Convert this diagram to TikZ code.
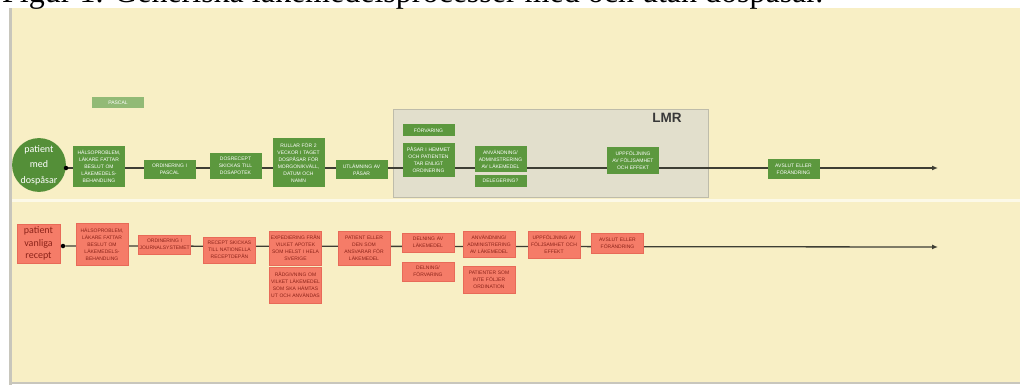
\documentclass[tikz,border=0pt]{standalone}
\usepackage{fontspec}
\setmainfont{Liberation Sans}
\newfontfamily\serifF{Liberation Serif}
\newfontfamily\calF{Carlito}
\usetikzlibrary{arrows.meta}
\definecolor{bgyellow}{RGB}{248,239,197}
\definecolor{edgegray}{RGB}{200,198,188}
\definecolor{gfill}{RGB}{92,152,62}
\definecolor{gcircle}{RGB}{84,143,56}
\definecolor{glight}{RGB}{146,186,118}
\definecolor{lmrfill}{RGB}{226,223,204}
\definecolor{lmrdraw}{RGB}{190,188,170}
\definecolor{sfill}{RGB}{245,124,104}
\definecolor{sdraw}{RGB}{232,106,88}
\definecolor{stext}{RGB}{140,35,25}
\definecolor{linec}{RGB}{62,62,52}
\pgfdeclarelayer{bglayer}
\pgfdeclarelayer{linelayer}
\pgfsetlayers{bglayer,linelayer,main}
\begin{document}
\begin{tikzpicture}[x=1pt,y=-1pt,
  gbox/.style={fill=gfill, text=white, font=\fontsize{5}{7}\selectfont, align=center,
    text width=50pt, inner xsep=1pt, inner ysep=0pt},
  sbox/.style={fill=sfill, draw=sdraw, line width=0.4pt, text=stext, font=\fontsize{5}{7}\selectfont, align=center,
    text width=50pt, inner xsep=1pt, inner ysep=0pt},
  startc/.style={circle, fill=gcircle, text=white, font=\calF\fontsize{10}{15.5}\selectfont, align=center,
    minimum size=52pt, inner sep=0pt},
  starts/.style={fill=sfill, draw=sdraw, line width=0.4pt, text=stext, font=\calF\fontsize{10}{12.5}\selectfont, align=center,
    minimum width=43pt, minimum height=39pt, inner sep=0pt},
  dotn/.style={circle, fill=black, inner sep=0pt, minimum size=4.5pt},
  conn/.style={draw=linec, line width=1.3pt},
  arr/.style={conn, -{Latex[length=6pt,width=5pt]}}]
\useasboundingbox (0,0) rectangle (1020,385);
\begin{pgfonlayer}{bglayer}
  \fill[white] (0,0) rectangle (1020,385);
  \fill[bgyellow] (12,8) rectangle (1020,382);
  \fill[edgegray] (9,8) rectangle (12,385);
  \fill[edgegray] (9,382) rectangle (1020,384);
  \fill[white!60!bgyellow] (12,199) rectangle (1020,201.5);
  \node[draw=lmrdraw, fill=lmrfill, line width=0.8pt, minimum width=315pt, minimum height=88pt, inner sep=0pt] (lmr) at (550.5,153) {};
  \node[font=\bfseries\fontsize{13.5}{14}\selectfont, text=black!78, inner sep=0pt] (lmrlabel) at (667,118) {LMR};
\end{pgfonlayer}

\node[anchor=base west, font=\serifF\fontsize{32}{32}\selectfont, inner sep=0pt] (title) at (2,3) {Figur 1. Generiska läkemedelsprocesser med och utan dospåsar.};

% top row
\node[startc] (c1) at (39,165) {patient\\med\\dospåsar};
\node[dotn] (dA) at (66,168) {};
\coordinate (eA) at (938,168);
\node[gbox, fill=glight, minimum height=11pt] (pascal) at (118,102.5) {PASCAL};
\node[gbox, minimum height=41pt] (a1) at (99,166.5) {HÄLSOPROBLEM,\\LÄKARE FATTAR\\BESLUT OM\\LÄKEMEDELS-\\BEHANDLING};
\node[gbox, minimum height=19pt] (a2) at (169.5,169.5) {ORDINERING I\\PASCAL};
\node[gbox, minimum height=26pt] (a3) at (235.5,166) {DOSRECEPT\\SKICKAS TILL\\DOSAPOTEK};
\node[gbox, minimum height=49pt] (a4) at (298.5,162.5) {RULLAR FÖR 2\\VECKOR I TAGET\\DOSPÅSAR FÖR\\MORGON/KVÄLL,\\DATUM OCH\\NAMN};
\node[gbox, minimum height=19pt] (a5) at (361.5,169.5) {UTLÄMNING AV\\PÅSAR};
\node[gbox, minimum height=12pt] (a6) at (428.5,130) {FÖRVARING};
\node[gbox, minimum height=34pt] (a7) at (428.5,160) {PÅSAR I HEMMET\\OCH PATIENTEN\\TAR ENLIGT\\ORDINERING};
\node[gbox, minimum height=26pt] (a8) at (500.5,159) {ANVÄNDNING/\\ADMINISTRERING\\AV LÄKEMEDEL};
\node[gbox, minimum height=12pt] (a9) at (500.5,181) {DELEGERING?};
\node[gbox, minimum height=27pt] (a10) at (633,160.5) {UPPFÖLJNING\\AV FÖLJSAMHET\\OCH EFFEKT};
\node[gbox, minimum height=20pt] (a11) at (793.5,169) {AVSLUT ELLER\\FÖRÄNDRING};

% bottom row
\node[starts] (c2) at (38.5,243.5) {patient\\vanliga\\recept};
\node[dotn] (dB) at (63,246) {};
\coordinate (eB) at (938,247);
\node[sbox, minimum height=42pt] (b1) at (102,244) {HÄLSOPROBLEM,\\LÄKARE FATTAR\\BESLUT OM\\LÄKEMEDELS-\\BEHANDLING};
\node[sbox, minimum height=19pt] (b2) at (164.5,244.5) {ORDINERING I\\JOURNALSYSTEMET};
\node[sbox, minimum height=26pt] (b3) at (229.5,250) {RECEPT SKICKAS\\TILL NATIONELLA\\RECEPTDEPÅN};
\node[sbox, minimum height=34pt] (b4) at (295.5,248) {EXPEDIERING FRÅN\\VILKET APOTEK\\SOM HELST I HELA\\SVERIGE};
\node[sbox, minimum height=36pt] (b5) at (295.5,285) {RÅDGIVNING OM\\VILKET LÄKEMEDEL\\SOM SKA HÄMTAS\\UT OCH ANVÄNDAS};
\node[sbox, minimum height=34pt] (b6) at (364,248) {PATIENT ELLER\\DEN SOM\\ANSVARAR FÖR\\LÄKEMEDEL};
\node[sbox, minimum height=19pt] (b7) at (428,242.5) {DELNING AV\\LÄKEMEDEL};
\node[sbox, minimum height=19pt] (b8) at (428,271.5) {DELNING/\\FÖRVARING};
\node[sbox, minimum height=26pt] (b9) at (489,244) {ANVÄNDNING/\\ADMINISTRERING\\AV LÄKEMEDEL};
\node[sbox, minimum height=27pt] (b10) at (489,279.5) {PATIENTER SOM\\INTE FÖLJER\\ORDINATION};
\node[sbox, minimum height=27pt] (b11) at (554,244.5) {UPPFÖLJNING AV\\FÖLJSAMHET OCH\\EFFEKT};
\node[sbox, minimum height=20pt] (b12) at (617.5,243) {AVSLUT ELLER\\FÖRÄNDRING};

\begin{pgfonlayer}{linelayer}
  \draw[conn] (c1) -- (dA);
  \draw[arr] (dA) -- (eA);
  \draw[conn] (c2) -- (dB);
  \draw[arr] (dB) -- (eB);
\end{pgfonlayer}
\end{tikzpicture}
\end{document}
